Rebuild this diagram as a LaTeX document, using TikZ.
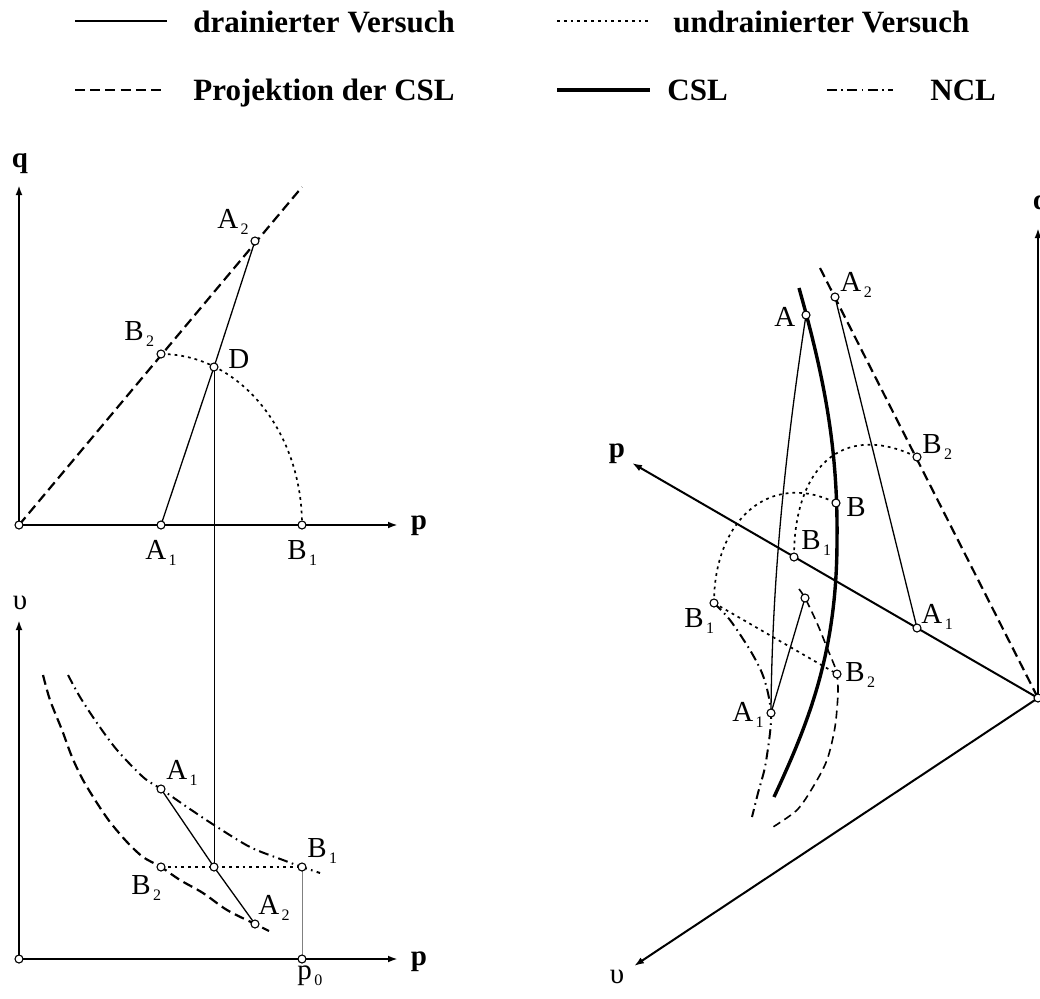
\documentclass[tikz,border=0pt]{standalone}
\usepackage{fontspec}
\setmainfont{Liberation Serif}
\usetikzlibrary{arrows.meta}
\newcommand\lb[2]{#1\kern1.2pt\raisebox{-3.3pt}{\fontsize{8}{9}\selectfont #2}}
\begin{document}
\begin{tikzpicture}[x=0.5pt,y=-0.5pt,
  drn/.style={line width=0.65pt},
  udr/.style={line width=0.85pt, dash pattern=on 1.4pt off 2pt},
  proj/.style={line width=1.1pt, dash pattern=on 5pt off 2.6pt},
  projthin/.style={line width=0.8pt, dash pattern=on 4pt off 2.5pt},
  csl/.style={line width=1.7pt},
  ncl/.style={line width=1pt, dash pattern=on 5pt off 2.2pt on 0.8pt off 2.2pt},
  axis/.style={line width=1pt, -{Latex[length=5pt,width=3.4pt]}},
  conn/.style={line width=0.5pt},
  gconn/.style={line width=0.5pt, draw=gray},
  pt/.style={circle, draw, fill=white, inner sep=0pt, minimum size=4pt, line width=0.55pt},
  lab/.style={font=\fontsize{14.5}{16}\selectfont, inner sep=0pt, anchor=base west},
  leg/.style={font=\fontsize{15.5}{18}\selectfont\bfseries, inner sep=0pt, anchor=base west},
  axl/.style={font=\fontsize{14.5}{16}\selectfont\bfseries, inner sep=0pt},
  axr/.style={font=\fontsize{14.5}{16}\selectfont, inner sep=0pt}
]
\useasboundingbox (0,0) rectangle (1040,998);

% ---------------- legend ----------------
\coordinate (l1a) at (75,21);  \coordinate (l1b) at (167,21);
\coordinate (l2a) at (557,21); \coordinate (l2b) at (650,21);
\coordinate (l3a) at (75,90);  \coordinate (l3b) at (163,90);
\coordinate (l4a) at (557,90); \coordinate (l4b) at (650,90);
\coordinate (l5a) at (827,90); \coordinate (l5b) at (893,90);
\draw[drn,line width=0.9pt] (l1a) -- (l1b);
\draw[udr] (l2a) -- (l2b);
\draw[proj] (l3a) -- (l3b);
\draw[csl] (l4a) -- (l4b);
\draw[ncl] (l5a) -- (l5b);
\node[leg] (t1) at (193,32) {drainierter Versuch};
\node[leg] (t2) at (673,32) {undrainierter Versuch};
\node[leg] (t3) at (193,100) {Projektion der CSL};
\node[leg] (t4) at (667,100) {CSL};
\node[leg] (t5) at (930,100) {NCL};

% ---------------- q-p diagram (top left) ----------------
\coordinate (O1) at (19,525);
\coordinate (q1) at (19,185);
\coordinate (p1) at (398,525);
\coordinate (pr1) at (302,187);
\coordinate (A1a) at (161,525);
\coordinate (B1a) at (302,525);
\coordinate (Da) at (214,367);
\coordinate (B2a) at (161,354);
\coordinate (A2a) at (255,241);

\draw[axis] (O1) -- (q1);
\draw[axis] (O1) -- (p1);
\draw[proj] (O1) -- (pr1);
\draw[drn] (A1a) -- (Da) -- (A2a);
\draw[udr] (B2a) arc[start angle=90, end angle=0, x radius=70.5pt, y radius=85.5pt];

% ---------------- v-p diagram (bottom left) ----------------
\coordinate (O2) at (19,959);
\coordinate (u2) at (19,620);
\coordinate (p2) at (398,959);
\coordinate (P0) at (302,959);
\coordinate (A1b) at (161,789);
\coordinate (B1b) at (302,867);
\coordinate (Mb) at (214,867);
\coordinate (B2b) at (161,867);
\coordinate (A2b) at (255,924);

\draw[axis] (O2) -- (u2);
\draw[axis] (O2) -- (p2);
\draw[conn] (Da) -- (Mb);
\draw[proj] plot[smooth] coordinates {(43,675) (50,700) (62,730) (72,757) (83,780) (97,803) (110,822) (127,842) (143,857) (161,867) (180,880) (203,893) (227,910) (255,924) (269,931)};
\draw[ncl] plot[smooth] coordinates {(68,675) (80,697) (97,723) (117,750) (143,777) (161,789) (187,807) (214,825) (250,847) (283,860) (302,867) (320,873)};
\draw[drn] (A1b) -- (Mb) -- (A2b);
\draw[udr] (B2b) -- (Mb) -- (B1b);
\draw[gconn] (P0) -- (B1b);

% ---------------- 3D diagram (right) ----------------
\coordinate (O3) at (1038,698);
\coordinate (q3) at (1038,228);
\coordinate (p3) at (632,463);
\coordinate (u3) at (634,966);
\coordinate (pr3) at (820,268);
\coordinate (A2c) at (835,297);
\coordinate (Ac) at (806,315);
\coordinate (B2c) at (917,457);
\coordinate (Bc) at (836,503);
\coordinate (B1c) at (794,557);
\coordinate (A1c) at (917,628);
\coordinate (B1d) at (714,603);
\coordinate (Xd) at (805,598);
\coordinate (B2d) at (837,674);
\coordinate (A1d) at (771,713);
\coordinate (cs0) at (799,288);
\coordinate (cs1) at (837,540);
\coordinate (cs2) at (774,797);

\draw[axis] (O3) -- (q3);
\draw[axis] (O3) -- (p3);
\draw[axis] (O3) -- (u3);
\draw[proj] (pr3) -- (O3);
\draw[drn] (A2c) -- (A1c);
\draw[csl] (cs0) .. controls (825,380) and (838,450) .. (cs1)
                 .. controls (837,650) and (810,720) .. (cs2);
\draw[drn] (Ac) .. controls (790,420) and (772,560) .. (A1d);
\draw[drn] (A1d) -- (Xd);
\draw[ncl] plot[smooth] coordinates {(714,603) (730,620) (750,650) (762,673) (768,693) (771,713) (770,733) (765,767) (758,793) (752,817)};
\draw[projthin] plot[smooth] coordinates {(799,589) (805,598) (817,623) (828,650) (835,667) (837,674) (838,693) (835,727) (827,760) (813,787) (797,810) (773,827)};
\draw[udr] (B1d) -- (B2d);
\draw[udr] (B1d) .. controls (714,520) and (770,470) .. (Bc);
\draw[udr] (B1c) .. controls (794,470) and (840,420) .. (B2c);

% ---------------- points ----------------
\foreach \p in {O1,A1a,B1a,Da,B2a,A2a,O2,P0,A1b,B1b,Mb,B2b,A2b,O3,A2c,Ac,B2c,Bc,B1c,A1c,B1d,Xd,B2d,A1d}
  \node[pt] (c\p) at (\p) {};

% ---------------- labels ----------------
\node[axl] (lq1) at (20,164) {q};
\node[axl] (lp1) at (419,526) {p};
\node[axr] (lu2) at (20,603) {υ};
\node[axl] (lp2) at (419,962) {p};
\node[axl] (lp3) at (617,454) {p};
\node[axr] (lu3) at (617,977) {υ};
\node[axl] (lq3) at (1041,206) {q};

\node[lab] (tA2a) at (217,228) {\lb{A}{2}};
\node[lab] (tB2a) at (124,340) {\lb{B}{2}};
\node[lab] (tDa) at (228,368) {D};
\node[lab] (tA1a) at (145,559) {\lb{A}{1}};
\node[lab] (tB1a) at (287,559) {\lb{B}{1}};

\node[lab] (tA1b) at (166,779) {\lb{A}{1}};
\node[lab] (tB1b) at (307,857) {\lb{B}{1}};
\node[lab] (tB2b) at (131,894) {\lb{B}{2}};
\node[lab] (tA2b) at (258,914) {\lb{A}{2}};
\node[lab] (tP0) at (297,979) {\lb{p}{0}};

\node[lab] (tA2c) at (840,291) {\lb{A}{2}};
\node[lab] (tAc) at (774,326) {A};
\node[lab] (tB2c) at (922,453) {\lb{B}{2}};
\node[lab] (tBc) at (846,516) {B};
\node[lab] (tB1c) at (801,549) {\lb{B}{1}};
\node[lab] (tA1c) at (921,623) {\lb{A}{1}};
\node[lab] (tB1d) at (684,627) {\lb{B}{1}};
\node[lab] (tB2d) at (845,681) {\lb{B}{2}};
\node[lab] (tA1d) at (732,721) {\lb{A}{1}};
\end{tikzpicture}
\end{document}
